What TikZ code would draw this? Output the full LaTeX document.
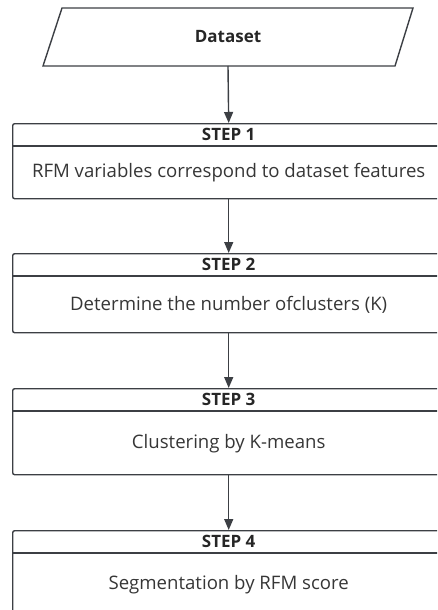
\documentclass[tikz,border=0pt]{standalone}
\usepackage{fontspec}
\setmainfont{Open Sans}
\usetikzlibrary{calc}
\usetikzlibrary{arrows.meta}

\definecolor{linegray}{HTML}{3C3F44}
\definecolor{textgray}{HTML}{363636}

\tikzset{
  stepbox/.style={draw=linegray, line width=1.4pt, rounded corners=2pt, minimum width=432pt, inner sep=0pt, anchor=north west},
  head/.style={font=\fontsize{17}{17}\selectfont\bfseries, text=black!85},
  body/.style={font=\fontsize{18.6}{18.6}\selectfont, text=textgray},
  arr/.style={draw=linegray, line width=1.4pt, -{Triangle[length=11pt,width=9pt]}},
}

\begin{document}
\begin{tikzpicture}[x=1pt,y=-1pt]
	\useasboundingbox (0,0) rectangle (437,610);
	\clip (0,0) rectangle (437,610);
	% input data
	\coordinate (P1) at (62,8);
	\coordinate (P2) at (413,8);
	\coordinate (P3) at (395,66);
	\coordinate (P4) at (43,66);
	\coordinate (Pout) at (228,66);
	\draw[draw=linegray,line width=1.4pt] (P1)--(P2)--(P3)--(P4)--cycle;
	\node[head] (data) at (228,37) {Dataset};

	% steps
	\node[stepbox, minimum height=75pt] (s1) at (12,123) {};
	\node[stepbox, minimum height=79pt] (s2) at (12,253) {};
	\node[stepbox, minimum height=86pt] (s3) at (12,388) {};
	\node[stepbox, minimum height=84pt] (s4) at (12,530) {};

	\draw[draw=linegray,line width=1.4pt] ($(s1.north west)+(0,23)$) -- ($(s1.north east)+(0,23)$);
	\draw[draw=linegray,line width=1.4pt] ($(s2.north west)+(0,23)$) -- ($(s2.north east)+(0,23)$);
	\draw[draw=linegray,line width=1.4pt] ($(s3.north west)+(0,23)$) -- ($(s3.north east)+(0,23)$);
	\draw[draw=linegray,line width=1.4pt] ($(s4.north west)+(0,23)$) -- ($(s4.north east)+(0,23)$);

	\node[head] (h1) at ($(s1.north)+(0,11.5)$) {STEP 1};
	\node[head] (h2) at ($(s2.north)+(0,11.5)$) {STEP 2};
	\node[head] (h3) at ($(s3.north)+(0,11.5)$) {STEP 3};
	\node[head] (h4) at ($(s4.north)+(0,11.5)$) {STEP 4};

	\node[body] (b1) at ($(s1.center)+(0,11.5)$) {RFM variables correspond to dataset features};
	\node[body] (b2) at ($(s2.center)+(0,11.5)$) {Determine the number ofclusters (K)};
	\node[body] (b3) at ($(s3.center)+(0,11.5)$) {Clustering by K-means};
	\node[body] (b4) at ($(s4.center)+(0,11.5)$) {Segmentation by RFM score};

	% flow
	\draw[arr] (Pout) -- (s1.north);
	\draw[arr] (s1.south) -- (s2.north);
	\draw[arr] (s2.south) -- (s3.north);
	\draw[arr] (s3.south) -- (s4.north);
\end{tikzpicture}
\end{document}
